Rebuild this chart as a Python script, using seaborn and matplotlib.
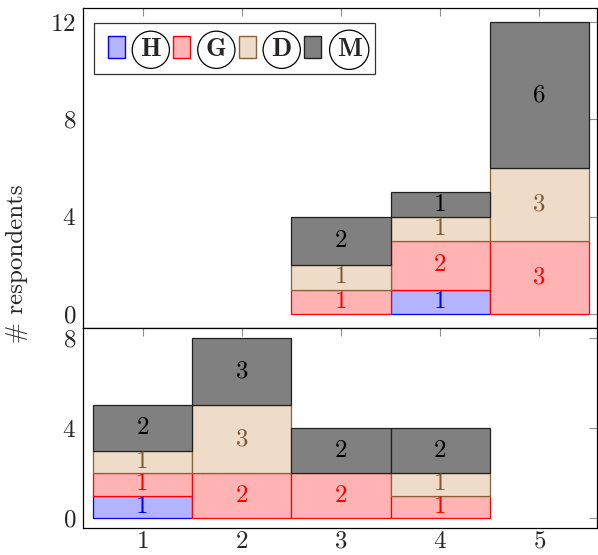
import pandas as pd
import matplotlib.pyplot as plt
import matplotlib.colors as mcolors
import seaborn as sns
from matplotlib.patches import Patch

# number of respondents per answer, stacked bottom to top: H, G, D, M
groups = ['H', 'G', 'D', 'M']

top_x = [3, 4, 5]
top_H = [0, 1, 0]
top_G = [1, 2, 3]
top_D = [1, 1, 3]
top_M = [2, 1, 6]

bottom_x = [1, 2, 3, 4]
bottom_H = [1, 0, 0, 0]
bottom_G = [1, 2, 2, 1]
bottom_D = [1, 3, 0, 1]
bottom_M = [2, 3, 2, 2]

top_ticks = [0, 4, 8, 12]
bottom_ticks = [0, 4, 8]
x_ticks = [1, 2, 3, 4, 5]

face = {'H': '#b3b3ff', 'G': '#ffb3b3', 'D': '#efdcc8', 'M': '#808080'}
edge = {'H': '#0000ff', 'G': '#ff0000', 'D': '#8a6239', 'M': '#202020'}
text_color = {'H': '#0000ff', 'G': '#ff0000', 'D': '#7b5a3a', 'M': '#000000'}

sns.set_theme(style='white')
plt.rcParams['font.family'] = ['cmr10', 'DejaVu Serif']
plt.rcParams['axes.formatter.use_mathtext'] = True
plt.rcParams['mathtext.fontset'] = 'cm'

FS = 18


def make_frame(xs, H, G, D, M):
    rows = []
    for g, vals in zip(groups, [H, G, D, M]):
        for x, v in zip(xs, vals):
            rows.append({'x': x, 'group': g, 'count': v})
    return pd.DataFrame(rows)


def draw_panel(ax, xs, H, G, D, M):
    df = make_frame(xs, H, G, D, M)
    sns.histplot(data=df, x='x', weights='count', hue='group',
                 hue_order=groups[::-1], palette=face, multiple='stack',
                 discrete=True, shrink=1, alpha=1, legend=False, ax=ax)
    lookup = {mcolors.to_hex(face[g]): g for g in groups}
    for p in ax.patches:
        g = lookup.get(mcolors.to_hex(p.get_facecolor()))
        if g is None:
            continue
        if p.get_height() == 0:
            p.set_visible(False)
        p.set_edgecolor(edge[g])
        p.set_linewidth(0.9)
    # segment labels
    for i, x in enumerate(xs):
        base = 0
        for g, vals in zip(groups, [H, G, D, M]):
            v = vals[i]
            if v > 0:
                ax.text(x, base + v / 2, str(v), ha='center', va='center',
                        fontsize=FS, color=text_color[g])
            base += v
    ax.set_xlabel('')
    ax.set_ylabel('')
    ax.set_xlim(0.4, 5.58)
    ax.set_xticks(x_ticks)
    ax.tick_params(direction='in', length=6, width=0.8, color='#909090',
                   top=True, right=True, labelsize=FS, pad=5)
    ax.tick_params(axis='x', pad=2)
    for s in ax.spines.values():
        s.set_color('black')
        s.set_linewidth(0.9)


fig = plt.figure(figsize=(5.98, 5.55), dpi=100)
ax_top = fig.add_axes([0.1388, 0.409, 0.8595, 0.5766])
ax_bot = fig.add_axes([0.1388, 0.0486, 0.8595, 0.3604])

draw_panel(ax_top, top_x, top_H, top_G, top_D, top_M)
ax_top.set_ylim(-0.58, 12.58)
ax_top.set_yticks(top_ticks)
ax_top.tick_params(labelbottom=False)

draw_panel(ax_bot, bottom_x, bottom_H, bottom_G, bottom_D, bottom_M)
ax_bot.set_ylim(-0.44, 8.44)
ax_bot.set_yticks(bottom_ticks)

handles = [Patch(facecolor=face[g], edgecolor=edge[g], linewidth=1.0) for g in groups]
leg = ax_top.legend(handles, groups, ncol=4, loc='upper left',
                    bbox_to_anchor=(0.022, 0.953), borderaxespad=0,
                    frameon=True, fancybox=False, edgecolor='black',
                    handlelength=0.65, handleheight=0.9, handletextpad=0.6,
                    columnspacing=0.45, borderpad=0.5, fontsize=19)
leg.get_frame().set_linewidth(0.9)
for t in leg.get_texts():
    t.set_fontfamily('cmb10')
    t.set_bbox(dict(boxstyle='circle,pad=0.27', fc='none', ec='black', lw=0.9))

fig.text(0.028, 0.525, '# respondents', rotation=90, ha='center', va='center',
         fontsize=FS)

fig.savefig('out.png', dpi=100)
